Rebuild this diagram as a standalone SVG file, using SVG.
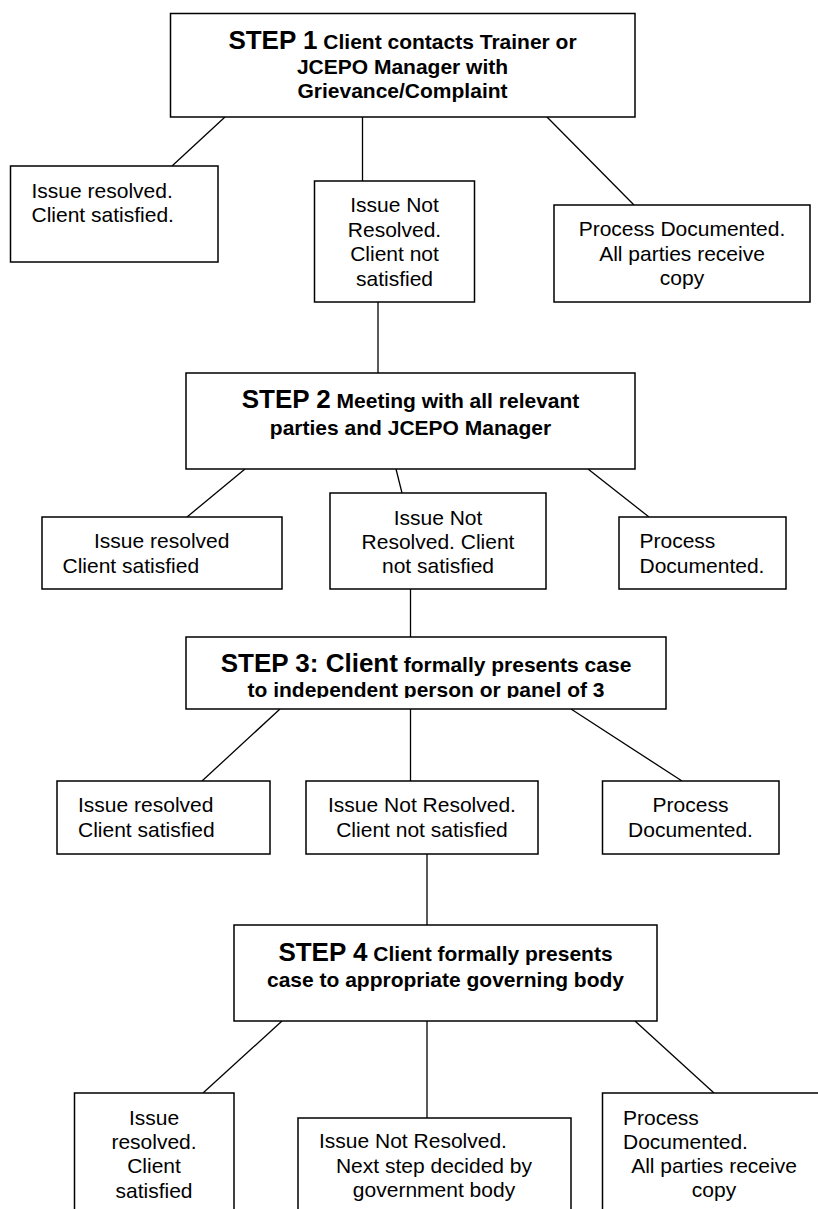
<svg xmlns="http://www.w3.org/2000/svg" width="818" height="1209" viewBox="0 0 818 1209">
<style>
.box{fill:#fff;stroke:#000;stroke-width:1.5}
.ln{stroke:#000;stroke-width:1.3;fill:none}
text{font-family:"Liberation Sans",Arial,sans-serif;fill:#000}
.t{font-size:21px}
.b{font-size:21px;font-weight:bold}
.big{font-size:26px;font-weight:bold}
.c{text-anchor:middle}
</style>
<defs>
<clipPath id="clip3"><rect x="186" y="637" width="480" height="61"/></clipPath>
</defs>
<rect width="818" height="1209" fill="#fff"/>
<g id="connectors">
<line class="ln" x1="225" y1="117" x2="172" y2="166"/>
<line class="ln" x1="362.5" y1="117" x2="362.5" y2="181"/>
<line class="ln" x1="547" y1="117" x2="634" y2="205"/>
<line class="ln" x1="378" y1="302" x2="378" y2="373"/>
<line class="ln" x1="245" y1="469" x2="187" y2="517"/>
<line class="ln" x1="396" y1="469" x2="402" y2="493"/>
<line class="ln" x1="588" y1="469" x2="649" y2="517"/>
<line class="ln" x1="410.5" y1="589" x2="410.5" y2="637"/>
<line class="ln" x1="280" y1="709" x2="202" y2="781"/>
<line class="ln" x1="410.5" y1="709" x2="410.5" y2="781"/>
<line class="ln" x1="571" y1="709" x2="682" y2="781"/>
<line class="ln" x1="427" y1="854" x2="427" y2="925"/>
<line class="ln" x1="282" y1="1021" x2="203" y2="1093"/>
<line class="ln" x1="427" y1="1021" x2="427" y2="1118"/>
<line class="ln" x1="635" y1="1021" x2="714" y2="1093"/>
</g>
<g id="step1">
<rect class="box" x="170.5" y="13.5" width="464.5" height="103.5"/>
<text class="c" x="402.5" y="49"><tspan class="big">STEP 1</tspan><tspan class="b"> Client contacts Trainer or</tspan></text>
<text class="b c" x="402.5" y="74">JCEPO Manager with</text>
<text class="b c" x="402.5" y="98">Grievance/Complaint</text>
</g>
<g id="s1-resolved">
<rect class="box" x="10.5" y="166" width="207.5" height="96"/>
<text class="t" x="31.5" y="198">Issue resolved.</text>
<text class="t" x="31.5" y="222">Client satisfied.</text>
</g>
<g id="s1-notresolved">
<rect class="box" x="314.5" y="181" width="160" height="121"/>
<text class="t c" x="394.5" y="212">Issue Not</text>
<text class="t c" x="394.5" y="237">Resolved.</text>
<text class="t c" x="394.5" y="261">Client not</text>
<text class="t c" x="394.5" y="286">satisfied</text>
</g>
<g id="s1-documented">
<rect class="box" x="554" y="205" width="256" height="97"/>
<text class="t c" x="682" y="236">Process Documented.</text>
<text class="t c" x="682" y="261">All parties receive</text>
<text class="t c" x="682" y="285">copy</text>
</g>
<g id="step2">
<rect class="box" x="186" y="373" width="449" height="96"/>
<text class="c" x="410.5" y="408"><tspan class="big">STEP 2</tspan><tspan class="b"> Meeting with all relevant</tspan></text>
<text class="b c" x="410.5" y="435">parties and JCEPO Manager</text>
</g>
<g id="s2-resolved">
<rect class="box" x="42" y="517" width="240" height="72"/>
<text class="t" x="94" y="548">Issue resolved</text>
<text class="t" x="62.5" y="573">Client satisfied</text>
</g>
<g id="s2-notresolved">
<rect class="box" x="330" y="493" width="216" height="96"/>
<text class="t c" x="438" y="525">Issue Not</text>
<text class="t c" x="438" y="549">Resolved. Client</text>
<text class="t c" x="438" y="573">not satisfied</text>
</g>
<g id="s2-documented">
<rect class="box" x="619" y="517" width="167" height="72"/>
<text class="t" x="639.5" y="548">Process</text>
<text class="t" x="639.5" y="573">Documented.</text>
</g>
<g id="step3">
<rect class="box" x="186" y="637" width="480" height="72"/>
<text class="c" x="426" y="672"><tspan class="big">STEP 3: Client</tspan><tspan class="b"> formally presents case</tspan></text>
<text class="b c" x="426" y="697" clip-path="url(#clip3)">to independent person or panel of 3</text>
</g>
<g id="s3-resolved">
<rect class="box" x="57" y="781" width="213" height="73"/>
<text class="t" x="78" y="812">Issue resolved</text>
<text class="t" x="78" y="837">Client satisfied</text>
</g>
<g id="s3-notresolved">
<rect class="box" x="306" y="781" width="232" height="73"/>
<text class="t c" x="422" y="812">Issue Not Resolved.</text>
<text class="t c" x="422" y="837">Client not satisfied</text>
</g>
<g id="s3-documented">
<rect class="box" x="602.5" y="781" width="176.5" height="73"/>
<text class="t c" x="690.5" y="812">Process</text>
<text class="t c" x="690.5" y="837">Documented.</text>
</g>
<g id="step4">
<rect class="box" x="234" y="925" width="423" height="96"/>
<text class="c" x="445.5" y="961"><tspan class="big">STEP 4</tspan><tspan class="b"> Client formally presents</tspan></text>
<text class="b c" x="445.5" y="987">case to appropriate governing body</text>
</g>
<g id="s4-resolved">
<rect class="box" x="74.5" y="1093" width="159.5" height="130"/>
<text class="t c" x="154" y="1125">Issue</text>
<text class="t c" x="154" y="1149">resolved.</text>
<text class="t c" x="154" y="1173">Client</text>
<text class="t c" x="154" y="1198">satisfied</text>
</g>
<g id="s4-notresolved">
<rect class="box" x="298" y="1118" width="273" height="110"/>
<text class="t" x="319" y="1148">Issue Not Resolved.</text>
<text class="t c" x="434" y="1173">Next step decided by</text>
<text class="t c" x="434" y="1197">government body</text>
</g>
<g id="s4-documented">
<rect class="box" x="602.5" y="1093" width="224" height="130"/>
<text class="t" x="623" y="1125">Process</text>
<text class="t" x="623" y="1149">Documented.</text>
<text class="t c" x="714" y="1173">All parties receive</text>
<text class="t c" x="714" y="1197">copy</text>
</g>
</svg>
